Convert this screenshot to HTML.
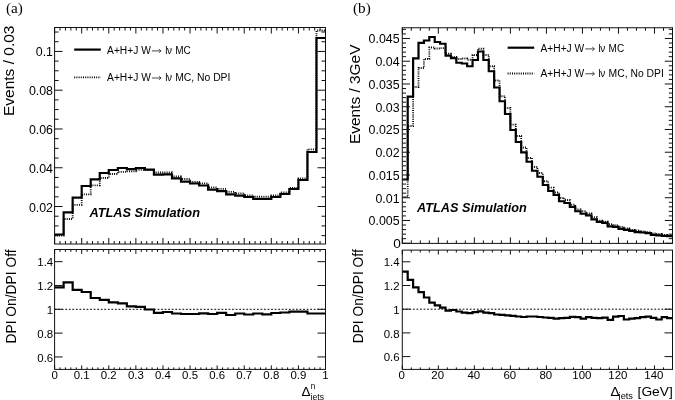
<!DOCTYPE html><html><head><meta charset="utf-8"><style>html,body{margin:0;padding:0;background:#fff;}html{filter:grayscale(1);}svg{display:block;}text{font-family:"Liberation Sans",sans-serif;fill:#000;}.serif{font-family:"Liberation Serif",serif;}</style></head><body>
<svg width="675" height="400" viewBox="0 0 675 400">
<rect width="675" height="400" fill="#fff"/>
<path d="M54.6 235.5L63.63 235.5L63.63 219L72.66 219L72.66 204.8L81.69 204.8L81.69 194.3L90.72 194.3L90.72 185.3L99.75 185.3L99.75 178L108.78 178L108.78 174L117.81 174L117.81 171.8L126.84 171.8L126.84 171.3L135.87 171.3L135.87 169.8L144.9 169.8L144.9 169.8L153.93 169.8L153.93 172.5L162.96 172.5L162.96 172.5L171.99 172.5L171.99 176.5L181.02 176.5L181.02 179L190.05 179L190.05 182L199.08 182L199.08 183.4L208.11 183.4L208.11 187.4L217.14 187.4L217.14 188.9L226.17 188.9L226.17 191.9L235.2 191.9L235.2 193.3L244.23 193.3L244.23 195.3L253.26 195.3L253.26 196.7L262.29 196.7L262.29 196.7L271.32 196.7L271.32 195.3L280.35 195.3L280.35 192.5L289.38 192.5L289.38 188L298.41 188L298.41 178.4L307.44 178.4L307.44 149.4L316.47 149.4L316.47 30.5L325.5 30.5" fill="none" stroke="#000" stroke-width="1.8" stroke-dasharray="1 1.2"/>
<path d="M54.6 234.5L63.63 234.5L63.63 212.4L72.66 212.4L72.66 197.6L81.69 197.6L81.69 186L90.72 186L90.72 179.4L99.75 179.4L99.75 173L108.78 173L108.78 170L117.81 170L117.81 168L126.84 168L126.84 169.2L135.87 169.2L135.87 168L144.9 168L144.9 169.7L153.93 169.7L153.93 174.6L162.96 174.6L162.96 174.3L171.99 174.3L171.99 178.4L181.02 178.4L181.02 181.7L190.05 181.7L190.05 183.5L199.08 183.5L199.08 185.5L208.11 185.5L208.11 189.6L217.14 189.6L217.14 191.1L226.17 191.1L226.17 194.4L235.2 194.4L235.2 195.6L244.23 195.6L244.23 197L253.26 197L253.26 198.8L262.29 198.8L262.29 198.8L271.32 198.8L271.32 197L280.35 197L280.35 194L289.38 194L289.38 189L298.41 189L298.41 180L307.44 180L307.44 152L316.47 152L316.47 38L325.5 38" fill="none" stroke="#000" stroke-width="2.2" stroke-linejoin="miter"/>
<path d="M54.6 309.3H325.5" stroke="#000" stroke-width="1" stroke-dasharray="1.8 1.75"/>
<path d="M54.6 287.3L63.63 287.3L63.63 282.4L72.66 282.4L72.66 289.8L81.69 289.8L81.69 292L90.72 292L90.72 298L99.75 298L99.75 299.9L108.78 299.9L108.78 302.4L117.81 302.4L117.81 303.4L126.84 303.4L126.84 306.4L135.87 306.4L135.87 306.9L144.9 306.9L144.9 309.5L153.93 309.5L153.93 312.8L162.96 312.8L162.96 312L171.99 312L171.99 313.5L181.02 313.5L181.02 314L190.05 314L190.05 314L199.08 314L199.08 313.4L208.11 313.4L208.11 314L217.14 314L217.14 312.8L226.17 312.8L226.17 315L235.2 315L235.2 313.5L244.23 313.5L244.23 314.5L253.26 314.5L253.26 313.5L262.29 313.5L262.29 314.3L271.32 314.3L271.32 313L280.35 313L280.35 312.5L289.38 312.5L289.38 311.7L298.41 311.7L298.41 311.7L307.44 311.7L307.44 313.5L316.47 313.5L316.47 313.5L325.5 313.5" fill="none" stroke="#000" stroke-width="2.2"/>
<rect x="54.6" y="27.5" width="270.9" height="216.5" fill="none" stroke="#111" stroke-width="1"/>
<rect x="54.6" y="249.5" width="270.9" height="119.9" fill="none" stroke="#111" stroke-width="1"/>
<path d="M54.6 27.5v6M54.6 244v-6M60.02 27.5v3M60.02 244v-3M65.44 27.5v3M65.44 244v-3M70.85 27.5v3M70.85 244v-3M76.27 27.5v3M76.27 244v-3M81.69 27.5v6M81.69 244v-6M87.11 27.5v3M87.11 244v-3M92.53 27.5v3M92.53 244v-3M97.94 27.5v3M97.94 244v-3M103.36 27.5v3M103.36 244v-3M108.78 27.5v6M108.78 244v-6M114.2 27.5v3M114.2 244v-3M119.62 27.5v3M119.62 244v-3M125.03 27.5v3M125.03 244v-3M130.45 27.5v3M130.45 244v-3M135.87 27.5v6M135.87 244v-6M141.29 27.5v3M141.29 244v-3M146.71 27.5v3M146.71 244v-3M152.12 27.5v3M152.12 244v-3M157.54 27.5v3M157.54 244v-3M162.96 27.5v6M162.96 244v-6M168.38 27.5v3M168.38 244v-3M173.8 27.5v3M173.8 244v-3M179.21 27.5v3M179.21 244v-3M184.63 27.5v3M184.63 244v-3M190.05 27.5v6M190.05 244v-6M195.47 27.5v3M195.47 244v-3M200.89 27.5v3M200.89 244v-3M206.3 27.5v3M206.3 244v-3M211.72 27.5v3M211.72 244v-3M217.14 27.5v6M217.14 244v-6M222.56 27.5v3M222.56 244v-3M227.98 27.5v3M227.98 244v-3M233.39 27.5v3M233.39 244v-3M238.81 27.5v3M238.81 244v-3M244.23 27.5v6M244.23 244v-6M249.65 27.5v3M249.65 244v-3M255.07 27.5v3M255.07 244v-3M260.48 27.5v3M260.48 244v-3M265.9 27.5v3M265.9 244v-3M271.32 27.5v6M271.32 244v-6M276.74 27.5v3M276.74 244v-3M282.16 27.5v3M282.16 244v-3M287.57 27.5v3M287.57 244v-3M292.99 27.5v3M292.99 244v-3M298.41 27.5v6M298.41 244v-6M303.83 27.5v3M303.83 244v-3M309.25 27.5v3M309.25 244v-3M314.66 27.5v3M314.66 244v-3M320.08 27.5v3M320.08 244v-3M325.5 27.5v6M325.5 244v-6" stroke="#111" stroke-width="1" fill="none"/>
<path d="M54.6 249.5v4.4M54.6 369.4v-4M60.02 249.5v2.4M60.02 369.4v-2M65.44 249.5v2.4M65.44 369.4v-2M70.85 249.5v2.4M70.85 369.4v-2M76.27 249.5v2.4M76.27 369.4v-2M81.69 249.5v4.4M81.69 369.4v-4M87.11 249.5v2.4M87.11 369.4v-2M92.53 249.5v2.4M92.53 369.4v-2M97.94 249.5v2.4M97.94 369.4v-2M103.36 249.5v2.4M103.36 369.4v-2M108.78 249.5v4.4M108.78 369.4v-4M114.2 249.5v2.4M114.2 369.4v-2M119.62 249.5v2.4M119.62 369.4v-2M125.03 249.5v2.4M125.03 369.4v-2M130.45 249.5v2.4M130.45 369.4v-2M135.87 249.5v4.4M135.87 369.4v-4M141.29 249.5v2.4M141.29 369.4v-2M146.71 249.5v2.4M146.71 369.4v-2M152.12 249.5v2.4M152.12 369.4v-2M157.54 249.5v2.4M157.54 369.4v-2M162.96 249.5v4.4M162.96 369.4v-4M168.38 249.5v2.4M168.38 369.4v-2M173.8 249.5v2.4M173.8 369.4v-2M179.21 249.5v2.4M179.21 369.4v-2M184.63 249.5v2.4M184.63 369.4v-2M190.05 249.5v4.4M190.05 369.4v-4M195.47 249.5v2.4M195.47 369.4v-2M200.89 249.5v2.4M200.89 369.4v-2M206.3 249.5v2.4M206.3 369.4v-2M211.72 249.5v2.4M211.72 369.4v-2M217.14 249.5v4.4M217.14 369.4v-4M222.56 249.5v2.4M222.56 369.4v-2M227.98 249.5v2.4M227.98 369.4v-2M233.39 249.5v2.4M233.39 369.4v-2M238.81 249.5v2.4M238.81 369.4v-2M244.23 249.5v4.4M244.23 369.4v-4M249.65 249.5v2.4M249.65 369.4v-2M255.07 249.5v2.4M255.07 369.4v-2M260.48 249.5v2.4M260.48 369.4v-2M265.9 249.5v2.4M265.9 369.4v-2M271.32 249.5v4.4M271.32 369.4v-4M276.74 249.5v2.4M276.74 369.4v-2M282.16 249.5v2.4M282.16 369.4v-2M287.57 249.5v2.4M287.57 369.4v-2M292.99 249.5v2.4M292.99 369.4v-2M298.41 249.5v4.4M298.41 369.4v-4M303.83 249.5v2.4M303.83 369.4v-2M309.25 249.5v2.4M309.25 369.4v-2M314.66 249.5v2.4M314.66 369.4v-2M320.08 249.5v2.4M320.08 369.4v-2M325.5 249.5v4.4M325.5 369.4v-4" stroke="#111" stroke-width="1" fill="none"/>
<path d="M54.6 206.53h8M325.5 206.53h-8M54.6 167.75h8M325.5 167.75h-8M54.6 128.98h8M325.5 128.98h-8M54.6 90.2h8M325.5 90.2h-8M54.6 51.43h8M325.5 51.43h-8M54.6 235.61h4M325.5 235.61h-4M54.6 225.91h4M325.5 225.91h-4M54.6 216.22h4M325.5 216.22h-4M54.6 196.83h4M325.5 196.83h-4M54.6 187.14h4M325.5 187.14h-4M54.6 177.44h4M325.5 177.44h-4M54.6 158.06h4M325.5 158.06h-4M54.6 148.36h4M325.5 148.36h-4M54.6 138.67h4M325.5 138.67h-4M54.6 119.28h4M325.5 119.28h-4M54.6 109.59h4M325.5 109.59h-4M54.6 99.89h4M325.5 99.89h-4M54.6 80.51h4M325.5 80.51h-4M54.6 70.81h4M325.5 70.81h-4M54.6 61.12h4M325.5 61.12h-4M54.6 41.73h4M325.5 41.73h-4M54.6 32.04h4M325.5 32.04h-4" stroke="#111" stroke-width="1" fill="none"/>
<path d="M54.6 356.94h8M325.5 356.94h-8M54.6 333.12h8M325.5 333.12h-8M54.6 309.3h8M325.5 309.3h-8M54.6 285.48h8M325.5 285.48h-8M54.6 261.66h8M325.5 261.66h-8" stroke="#111" stroke-width="1" fill="none"/>
<path d="M402.3 197L407.7 197L407.7 126L413.11 126L413.11 87L418.51 87L418.51 68L423.92 68L423.92 59L429.32 59L429.32 47.5L434.72 47.5L434.72 48.5L440.13 48.5L440.13 48.1L445.53 48.1L445.53 53.75L450.94 53.75L450.94 56.9L456.34 56.9L456.34 59L461.74 59L461.74 58.5L467.15 58.5L467.15 59.75L472.55 59.75L472.55 55L477.96 55L477.96 48.75L483.36 48.75L483.36 55L488.76 55L488.76 66.25L494.17 66.25L494.17 80.5L499.57 80.5L499.57 96.25L504.98 96.25L504.98 108L510.38 108L510.38 124.7L515.78 124.7L515.78 136L521.19 136L521.19 147.5L526.59 147.5L526.59 158L532 158L532 167L537.4 167L537.4 173L542.8 173L542.8 181.25L548.21 181.25L548.21 187.7L553.61 187.7L553.61 192.5L559.02 192.5L559.02 198L564.42 198L564.42 200L569.82 200L569.82 204.75L575.23 204.75L575.23 209.4L580.63 209.4L580.63 211.25L586.04 211.25L586.04 213.5L591.44 213.5L591.44 217.25L596.84 217.25L596.84 220.6L602.25 220.6L602.25 221.7L607.65 221.7L607.65 224.2L613.06 224.2L613.06 225.2L618.46 225.2L618.46 226.8L623.86 226.8L623.86 228.3L629.27 228.3L629.27 229.9L634.67 229.9L634.67 230.4L640.08 230.4L640.08 231.5L645.48 231.5L645.48 232.2L650.88 232.2L650.88 233.5L656.29 233.5L656.29 234L661.69 234L661.69 235L667.1 235L667.1 235.3L672.5 235.3" fill="none" stroke="#000" stroke-width="1.8" stroke-dasharray="1 1.2"/>
<path d="M402.3 179.5L407.7 179.5L407.7 96.6L413.11 96.6L413.11 58.4L418.51 58.4L418.51 42.9L423.92 42.9L423.92 40.5L429.32 40.5L429.32 37L434.72 37L434.72 42L440.13 42L440.13 43.75L445.53 43.75L445.53 55.6L450.94 55.6L450.94 58.1L456.34 58.1L456.34 62.75L461.74 62.75L461.74 63.5L467.15 63.5L467.15 66.25L472.55 66.25L472.55 60L477.96 60L477.96 51.5L483.36 51.5L483.36 60L488.76 60L488.76 71.25L494.17 71.25L494.17 87.5L499.57 87.5L499.57 101.25L504.98 101.25L504.98 114L510.38 114L510.38 130L515.78 130L515.78 142L521.19 142L521.19 152.4L526.59 152.4L526.59 161.75L532 161.75L532 170.75L537.4 170.75L537.4 176.75L542.8 176.75L542.8 185L548.21 185L548.21 191L553.61 191L553.61 195L559.02 195L559.02 201.25L564.42 201.25L564.42 203L569.82 203L569.82 207L575.23 207L575.23 211.25L580.63 211.25L580.63 213.75L586.04 213.75L586.04 215.4L591.44 215.4L591.44 219.4L596.84 219.4L596.84 221.9L602.25 221.9L602.25 222.8L607.65 222.8L607.65 226.3L613.06 226.3L613.06 226.8L618.46 226.8L618.46 228.9L623.86 228.9L623.86 229.9L629.27 229.9L629.27 230.9L634.67 230.9L634.67 232.2L640.08 232.2L640.08 232.5L645.48 232.5L645.48 233.2L650.88 233.2L650.88 234.9L656.29 234.9L656.29 235.3L661.69 235.3L661.69 235.9L667.1 235.9L667.1 236.1L672.5 236.1" fill="none" stroke="#000" stroke-width="2.2"/>
<path d="M402.3 309.2H672.5" stroke="#000" stroke-width="1" stroke-dasharray="1.8 1.75"/>
<path d="M402.3 271.7L407.7 271.7L407.7 279.8L413.11 279.8L413.11 287.4L418.51 287.4L418.51 292.2L423.92 292.2L423.92 297.5L429.32 297.5L429.32 302.7L434.72 302.7L434.72 305.4L440.13 305.4L440.13 307.7L445.53 307.7L445.53 310.7L450.94 310.7L450.94 310L456.34 310L456.34 311.5L461.74 311.5L461.74 312.6L467.15 312.6L467.15 313.2L472.55 313.2L472.55 312.1L477.96 312.1L477.96 311.3L483.36 311.3L483.36 312.6L488.76 312.6L488.76 313.2L494.17 313.2L494.17 314.5L499.57 314.5L499.57 314.9L504.98 314.9L504.98 315.4L510.38 315.4L510.38 315.8L515.78 315.8L515.78 316.5L521.19 316.5L521.19 317L526.59 317L526.59 316.5L532 316.5L532 316.5L537.4 316.5L537.4 317L542.8 317L542.8 317.5L548.21 317.5L548.21 317.8L553.61 317.8L553.61 318.6L559.02 318.6L559.02 318.1L564.42 318.1L564.42 317.8L569.82 317.8L569.82 316.9L575.23 316.9L575.23 317.2L580.63 317.2L580.63 318.6L586.04 318.6L586.04 317.2L591.44 317.2L591.44 317.8L596.84 317.8L596.84 318.1L602.25 318.1L602.25 317.6L607.65 317.6L607.65 319.9L613.06 319.9L613.06 316.7L618.46 316.7L618.46 316L623.86 316L623.86 319.5L629.27 319.5L629.27 318.6L634.67 318.6L634.67 318.1L640.08 318.1L640.08 317.2L645.48 317.2L645.48 316.7L650.88 316.7L650.88 317.8L656.29 317.8L656.29 319.5L661.69 319.5L661.69 317.2L667.1 317.2L667.1 318.1L672.5 318.1" fill="none" stroke="#000" stroke-width="2.2"/>
<rect x="402.3" y="27.75" width="270.2" height="215.65" fill="none" stroke="#111" stroke-width="1"/>
<rect x="402.3" y="250.1" width="270.2" height="119.3" fill="none" stroke="#111" stroke-width="1"/>
<path d="M402.3 27.75v6M402.3 243.4v-6M411.31 27.75v3M411.31 243.4v-3M420.31 27.75v3M420.31 243.4v-3M429.32 27.75v3M429.32 243.4v-3M438.33 27.75v6M438.33 243.4v-6M447.33 27.75v3M447.33 243.4v-3M456.34 27.75v3M456.34 243.4v-3M465.35 27.75v3M465.35 243.4v-3M474.35 27.75v6M474.35 243.4v-6M483.36 27.75v3M483.36 243.4v-3M492.37 27.75v3M492.37 243.4v-3M501.37 27.75v3M501.37 243.4v-3M510.38 27.75v6M510.38 243.4v-6M519.39 27.75v3M519.39 243.4v-3M528.39 27.75v3M528.39 243.4v-3M537.4 27.75v3M537.4 243.4v-3M546.41 27.75v6M546.41 243.4v-6M555.41 27.75v3M555.41 243.4v-3M564.42 27.75v3M564.42 243.4v-3M573.43 27.75v3M573.43 243.4v-3M582.43 27.75v6M582.43 243.4v-6M591.44 27.75v3M591.44 243.4v-3M600.45 27.75v3M600.45 243.4v-3M609.45 27.75v3M609.45 243.4v-3M618.46 27.75v6M618.46 243.4v-6M627.47 27.75v3M627.47 243.4v-3M636.47 27.75v3M636.47 243.4v-3M645.48 27.75v3M645.48 243.4v-3M654.49 27.75v6M654.49 243.4v-6M663.49 27.75v3M663.49 243.4v-3M672.5 27.75v3M672.5 243.4v-3" stroke="#111" stroke-width="1" fill="none"/>
<path d="M402.3 250.1v4.4M402.3 369.4v-4M411.31 250.1v2.4M411.31 369.4v-2M420.31 250.1v2.4M420.31 369.4v-2M429.32 250.1v2.4M429.32 369.4v-2M438.33 250.1v4.4M438.33 369.4v-4M447.33 250.1v2.4M447.33 369.4v-2M456.34 250.1v2.4M456.34 369.4v-2M465.35 250.1v2.4M465.35 369.4v-2M474.35 250.1v4.4M474.35 369.4v-4M483.36 250.1v2.4M483.36 369.4v-2M492.37 250.1v2.4M492.37 369.4v-2M501.37 250.1v2.4M501.37 369.4v-2M510.38 250.1v4.4M510.38 369.4v-4M519.39 250.1v2.4M519.39 369.4v-2M528.39 250.1v2.4M528.39 369.4v-2M537.4 250.1v2.4M537.4 369.4v-2M546.41 250.1v4.4M546.41 369.4v-4M555.41 250.1v2.4M555.41 369.4v-2M564.42 250.1v2.4M564.42 369.4v-2M573.43 250.1v2.4M573.43 369.4v-2M582.43 250.1v4.4M582.43 369.4v-4M591.44 250.1v2.4M591.44 369.4v-2M600.45 250.1v2.4M600.45 369.4v-2M609.45 250.1v2.4M609.45 369.4v-2M618.46 250.1v4.4M618.46 369.4v-4M627.47 250.1v2.4M627.47 369.4v-2M636.47 250.1v2.4M636.47 369.4v-2M645.48 250.1v2.4M645.48 369.4v-2M654.49 250.1v4.4M654.49 369.4v-4M663.49 250.1v2.4M663.49 369.4v-2M672.5 250.1v2.4M672.5 369.4v-2" stroke="#111" stroke-width="1" fill="none"/>
<path d="M402.3 243.22h7.7M672.5 243.22h-7.7M402.3 220.47h7.7M672.5 220.47h-7.7M402.3 197.72h7.7M672.5 197.72h-7.7M402.3 174.97h7.7M672.5 174.97h-7.7M402.3 152.22h7.7M672.5 152.22h-7.7M402.3 129.47h7.7M672.5 129.47h-7.7M402.3 106.72h7.7M672.5 106.72h-7.7M402.3 83.97h7.7M672.5 83.97h-7.7M402.3 61.22h7.7M672.5 61.22h-7.7M402.3 38.47h7.7M672.5 38.47h-7.7M402.3 238.67h3.7M672.5 238.67h-3.7M402.3 234.12h3.7M672.5 234.12h-3.7M402.3 229.57h3.7M672.5 229.57h-3.7M402.3 225.02h3.7M672.5 225.02h-3.7M402.3 215.92h3.7M672.5 215.92h-3.7M402.3 211.37h3.7M672.5 211.37h-3.7M402.3 206.82h3.7M672.5 206.82h-3.7M402.3 202.27h3.7M672.5 202.27h-3.7M402.3 193.17h3.7M672.5 193.17h-3.7M402.3 188.62h3.7M672.5 188.62h-3.7M402.3 184.07h3.7M672.5 184.07h-3.7M402.3 179.52h3.7M672.5 179.52h-3.7M402.3 170.42h3.7M672.5 170.42h-3.7M402.3 165.87h3.7M672.5 165.87h-3.7M402.3 161.32h3.7M672.5 161.32h-3.7M402.3 156.77h3.7M672.5 156.77h-3.7M402.3 147.67h3.7M672.5 147.67h-3.7M402.3 143.12h3.7M672.5 143.12h-3.7M402.3 138.57h3.7M672.5 138.57h-3.7M402.3 134.02h3.7M672.5 134.02h-3.7M402.3 124.92h3.7M672.5 124.92h-3.7M402.3 120.37h3.7M672.5 120.37h-3.7M402.3 115.82h3.7M672.5 115.82h-3.7M402.3 111.27h3.7M672.5 111.27h-3.7M402.3 102.17h3.7M672.5 102.17h-3.7M402.3 97.62h3.7M672.5 97.62h-3.7M402.3 93.07h3.7M672.5 93.07h-3.7M402.3 88.52h3.7M672.5 88.52h-3.7M402.3 79.42h3.7M672.5 79.42h-3.7M402.3 74.87h3.7M672.5 74.87h-3.7M402.3 70.32h3.7M672.5 70.32h-3.7M402.3 65.77h3.7M672.5 65.77h-3.7M402.3 56.67h3.7M672.5 56.67h-3.7M402.3 52.12h3.7M672.5 52.12h-3.7M402.3 47.57h3.7M672.5 47.57h-3.7M402.3 43.02h3.7M672.5 43.02h-3.7M402.3 33.92h3.7M672.5 33.92h-3.7M402.3 29.37h3.7M672.5 29.37h-3.7" stroke="#111" stroke-width="1" fill="none"/>
<path d="M402.3 356.6h8M672.5 356.6h-8M402.3 332.9h8M672.5 332.9h-8M402.3 309.2h8M672.5 309.2h-8M402.3 285.5h8M672.5 285.5h-8M402.3 261.8h8M672.5 261.8h-8" stroke="#111" stroke-width="1" fill="none"/>
<text transform="translate(53,211.62) scale(1.0,1)" font-size="12.4" text-anchor="end">0.02</text>
<text transform="translate(53,172.85) scale(1.0,1)" font-size="12.4" text-anchor="end">0.04</text>
<text transform="translate(53,134.08) scale(1.0,1)" font-size="12.4" text-anchor="end">0.06</text>
<text transform="translate(53,95.3) scale(1.0,1)" font-size="12.4" text-anchor="end">0.08</text>
<text transform="translate(53,55.83) scale(1.0,1)" font-size="12.4" text-anchor="end">0.1</text>
<text transform="translate(53.2,361.54) scale(1.07,1)" font-size="10.7" text-anchor="end">0.6</text>
<text transform="translate(53.2,337.72) scale(1.07,1)" font-size="10.7" text-anchor="end">0.8</text>
<text transform="translate(53.2,313.9) scale(1.07,1)" font-size="10.7" text-anchor="end">1</text>
<text transform="translate(53.2,290.08) scale(1.07,1)" font-size="10.7" text-anchor="end">1.2</text>
<text transform="translate(53.2,266.26) scale(1.07,1)" font-size="10.7" text-anchor="end">1.4</text>
<text transform="translate(54.6,379.3) scale(1.07,1)" font-size="10.7" text-anchor="middle">0</text>
<text transform="translate(81.69,379.3) scale(1.07,1)" font-size="10.7" text-anchor="middle">0.1</text>
<text transform="translate(108.78,379.3) scale(1.07,1)" font-size="10.7" text-anchor="middle">0.2</text>
<text transform="translate(135.87,379.3) scale(1.07,1)" font-size="10.7" text-anchor="middle">0.3</text>
<text transform="translate(162.96,379.3) scale(1.07,1)" font-size="10.7" text-anchor="middle">0.4</text>
<text transform="translate(190.05,379.3) scale(1.07,1)" font-size="10.7" text-anchor="middle">0.5</text>
<text transform="translate(217.14,379.3) scale(1.07,1)" font-size="10.7" text-anchor="middle">0.6</text>
<text transform="translate(244.23,379.3) scale(1.07,1)" font-size="10.7" text-anchor="middle">0.7</text>
<text transform="translate(271.32,379.3) scale(1.07,1)" font-size="10.7" text-anchor="middle">0.8</text>
<text transform="translate(298.41,379.3) scale(1.07,1)" font-size="10.7" text-anchor="middle">0.9</text>
<text transform="translate(325.5,379.3) scale(1.07,1)" font-size="10.7" text-anchor="middle">1</text>
<text transform="translate(400.8,247.82) scale(1.1,1)" font-size="12.4" text-anchor="end">0</text>
<text transform="translate(399.6,225.37) scale(1.0,1)" font-size="12.4" text-anchor="end">0.005</text>
<text transform="translate(399.6,202.62) scale(1.0,1)" font-size="12.4" text-anchor="end">0.01</text>
<text transform="translate(399.6,179.87) scale(1.0,1)" font-size="12.4" text-anchor="end">0.015</text>
<text transform="translate(399.6,157.12) scale(1.0,1)" font-size="12.4" text-anchor="end">0.02</text>
<text transform="translate(399.6,134.37) scale(1.0,1)" font-size="12.4" text-anchor="end">0.025</text>
<text transform="translate(399.6,111.62) scale(1.0,1)" font-size="12.4" text-anchor="end">0.03</text>
<text transform="translate(399.6,88.87) scale(1.0,1)" font-size="12.4" text-anchor="end">0.035</text>
<text transform="translate(399.6,66.12) scale(1.0,1)" font-size="12.4" text-anchor="end">0.04</text>
<text transform="translate(399.6,43.37) scale(1.0,1)" font-size="12.4" text-anchor="end">0.045</text>
<text transform="translate(399.6,361.2) scale(1.07,1)" font-size="10.7" text-anchor="end">0.6</text>
<text transform="translate(399.6,337.5) scale(1.07,1)" font-size="10.7" text-anchor="end">0.8</text>
<text transform="translate(399.6,313.8) scale(1.07,1)" font-size="10.7" text-anchor="end">1</text>
<text transform="translate(399.6,290.1) scale(1.07,1)" font-size="10.7" text-anchor="end">1.2</text>
<text transform="translate(399.6,266.4) scale(1.07,1)" font-size="10.7" text-anchor="end">1.4</text>
<text transform="translate(401.7,379.4) scale(1.07,1)" font-size="10.7" text-anchor="middle">0</text>
<text transform="translate(437.73,379.4) scale(1.07,1)" font-size="10.7" text-anchor="middle">20</text>
<text transform="translate(473.75,379.4) scale(1.07,1)" font-size="10.7" text-anchor="middle">40</text>
<text transform="translate(509.78,379.4) scale(1.07,1)" font-size="10.7" text-anchor="middle">60</text>
<text transform="translate(545.81,379.4) scale(1.07,1)" font-size="10.7" text-anchor="middle">80</text>
<text transform="translate(581.83,379.4) scale(1.07,1)" font-size="10.7" text-anchor="middle">100</text>
<text transform="translate(617.86,379.4) scale(1.07,1)" font-size="10.7" text-anchor="middle">120</text>
<text transform="translate(653.89,379.4) scale(1.07,1)" font-size="10.7" text-anchor="middle">140</text>
<text transform="translate(14.3,116.1) rotate(-90)" font-size="15.2" textLength="90.6" lengthAdjust="spacingAndGlyphs">Events / 0.03</text>
<text transform="translate(15.5,343.5) rotate(-90)" font-size="13.8">DPI On/DPI Off</text>
<text transform="translate(359.6,144.1) rotate(-90)" font-size="15.2" textLength="99.6" lengthAdjust="spacingAndGlyphs">Events / 3GeV</text>
<text transform="translate(362.6,343.3) rotate(-90)" font-size="13.8">DPI On/DPI Off</text>
<text x="301.5" y="395.5" font-size="13.5">&#916;</text>
<text x="310.8" y="388.6" font-size="8.2">n</text>
<text x="310.6" y="399.8" font-size="8.6">jets</text>
<text x="610.4" y="395.6" font-size="13.5">&#916;</text>
<text x="618.6" y="399.3" font-size="9" textLength="14.4" lengthAdjust="spacingAndGlyphs">jets</text>
<text x="637.6" y="395.6" font-size="13.6" textLength="35.2" lengthAdjust="spacingAndGlyphs">[GeV]</text>
<text class="serif" x="6" y="12.5" font-size="15.2">(a)</text>
<text class="serif" x="353" y="12.5" font-size="15.2">(b)</text>
<text x="89.4" y="216.7" font-size="12.8" font-weight="bold" font-style="italic" textLength="110.6" lengthAdjust="spacingAndGlyphs">ATLAS Simulation</text>
<text x="417.1" y="212" font-size="12.8" font-weight="bold" font-style="italic" textLength="109.7" lengthAdjust="spacingAndGlyphs">ATLAS Simulation</text>
<path d="M74.2 49.6H100.8" stroke="#000" stroke-width="2.2"/>
<path d="M74.2 77.3H100.8" stroke="#000" stroke-width="1.8" stroke-dasharray="1 1.2"/>
<text x="107.1" y="53.6" font-size="10" textLength="43.7" lengthAdjust="spacingAndGlyphs">A+H+J W</text>
<path d="M151.9 50.9H160.8M158.9 49.1L161.1 50.9L158.9 52.7" stroke="#333" stroke-width="0.9" fill="none"/>
<text x="165.2" y="53.6" font-size="10">l</text>
<text x="166.9" y="53.6" font-size="10">&#957;</text>
<text x="175.2" y="53.6" font-size="10" textLength="15.6" lengthAdjust="spacingAndGlyphs">MC</text>
<text x="107.1" y="80.7" font-size="10" textLength="43.7" lengthAdjust="spacingAndGlyphs">A+H+J W</text>
<path d="M151.9 78H160.8M158.9 76.2L161.1 78L158.9 79.8" stroke="#333" stroke-width="0.9" fill="none"/>
<text x="165.2" y="80.7" font-size="10">l</text>
<text x="166.9" y="80.7" font-size="10">&#957;</text>
<text x="175.2" y="80.7" font-size="10" textLength="55.2" lengthAdjust="spacingAndGlyphs">MC, No DPI</text>
<path d="M507.6 47.7H534.2" stroke="#000" stroke-width="2.2"/>
<path d="M507.6 73.5H534.2" stroke="#000" stroke-width="1.8" stroke-dasharray="1 1.2"/>
<text x="540.5" y="51.6" font-size="10" textLength="43.7" lengthAdjust="spacingAndGlyphs">A+H+J W</text>
<path d="M585.3 48.9H594.2M592.3 47.1L594.5 48.9L592.3 50.7" stroke="#333" stroke-width="0.9" fill="none"/>
<text x="598.6" y="51.6" font-size="10">l</text>
<text x="600.3" y="51.6" font-size="10">&#957;</text>
<text x="608.6" y="51.6" font-size="10" textLength="15.6" lengthAdjust="spacingAndGlyphs">MC</text>
<text x="540.5" y="76.5" font-size="10" textLength="43.7" lengthAdjust="spacingAndGlyphs">A+H+J W</text>
<path d="M585.3 73.8H594.2M592.3 72L594.5 73.8L592.3 75.6" stroke="#333" stroke-width="0.9" fill="none"/>
<text x="598.6" y="76.5" font-size="10">l</text>
<text x="600.3" y="76.5" font-size="10">&#957;</text>
<text x="608.6" y="76.5" font-size="10" textLength="55.2" lengthAdjust="spacingAndGlyphs">MC, No DPI</text>
</svg></body></html>
